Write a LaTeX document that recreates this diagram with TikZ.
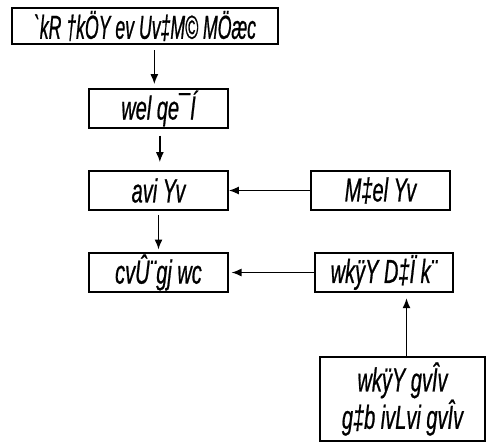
\documentclass[tikz,border=0pt]{standalone}
\usepackage{fontspec}
\setmainfont{Liberation Sans}[FakeStretch=0.6,FakeBold=0.6]
\newfontfamily\narrowfont{Liberation Sans}[FakeStretch=0.53,FakeBold=0.6]
\usetikzlibrary{arrows,arrows.meta,positioning}

\begin{document}
\begin{tikzpicture}[x=0.75pt,y=-0.75pt,>={Latex[length=7.5pt,width=6pt]},line width=1.1pt]
    \tikzstyle{box}=[draw, line width=1.5pt, inner sep=0pt, minimum width=104pt, minimum height=29pt,
                     font=\fontsize{25}{21}\selectfont\itshape]
    \useasboundingbox (0,0) rectangle (486,444);

    \node[box, minimum width=199.5pt, minimum height=27pt] (group) at (145,26) {\narrowfont `kR †kÖY ev Uv‡M© MÖæc};
    \node[box] (content)   at (158.5,108.5) {wel qe¯Í};
    \node[box] (concept)   at (158.5,190.5) {avi Yv};
    \node[box] (research)  at (380.5,190.5) {M‡el Yv};
    \node[box] (syllabus)  at (158.5,272.5) {cvÛ¨gj wc};
    \node[box, minimum width=103.5pt] (objective) at (384,272.5) {wkÿY D‡Ï k¨};
    \node[box, minimum width=123.75pt, minimum height=63pt, align=center] (level) at (402.5,399)
        {wkÿY gvÎv\\g‡b ivLvi gvÎv};

    \draw[->, shorten <=4pt, shorten >=3pt] ([xshift=7pt]group.south) -- ([xshift=7pt]group.south |- content.north);
    \draw[->, shorten <=5pt, shorten >=6pt] ([xshift=1pt]content.south) -- ([xshift=1pt]concept.north);
    \draw[->, shorten <=3pt, shorten >=2pt] (concept.south) -- (syllabus.north);
    \draw[->] (research.west) -- (concept.east);
    \draw[->, shorten >=2pt] (objective.west) -- (syllabus.east);
    \draw[->, shorten >=4pt] ([xshift=3pt]level.north) -- ([xshift=3pt]level.north |- objective.south);
\end{tikzpicture}
\end{document}
